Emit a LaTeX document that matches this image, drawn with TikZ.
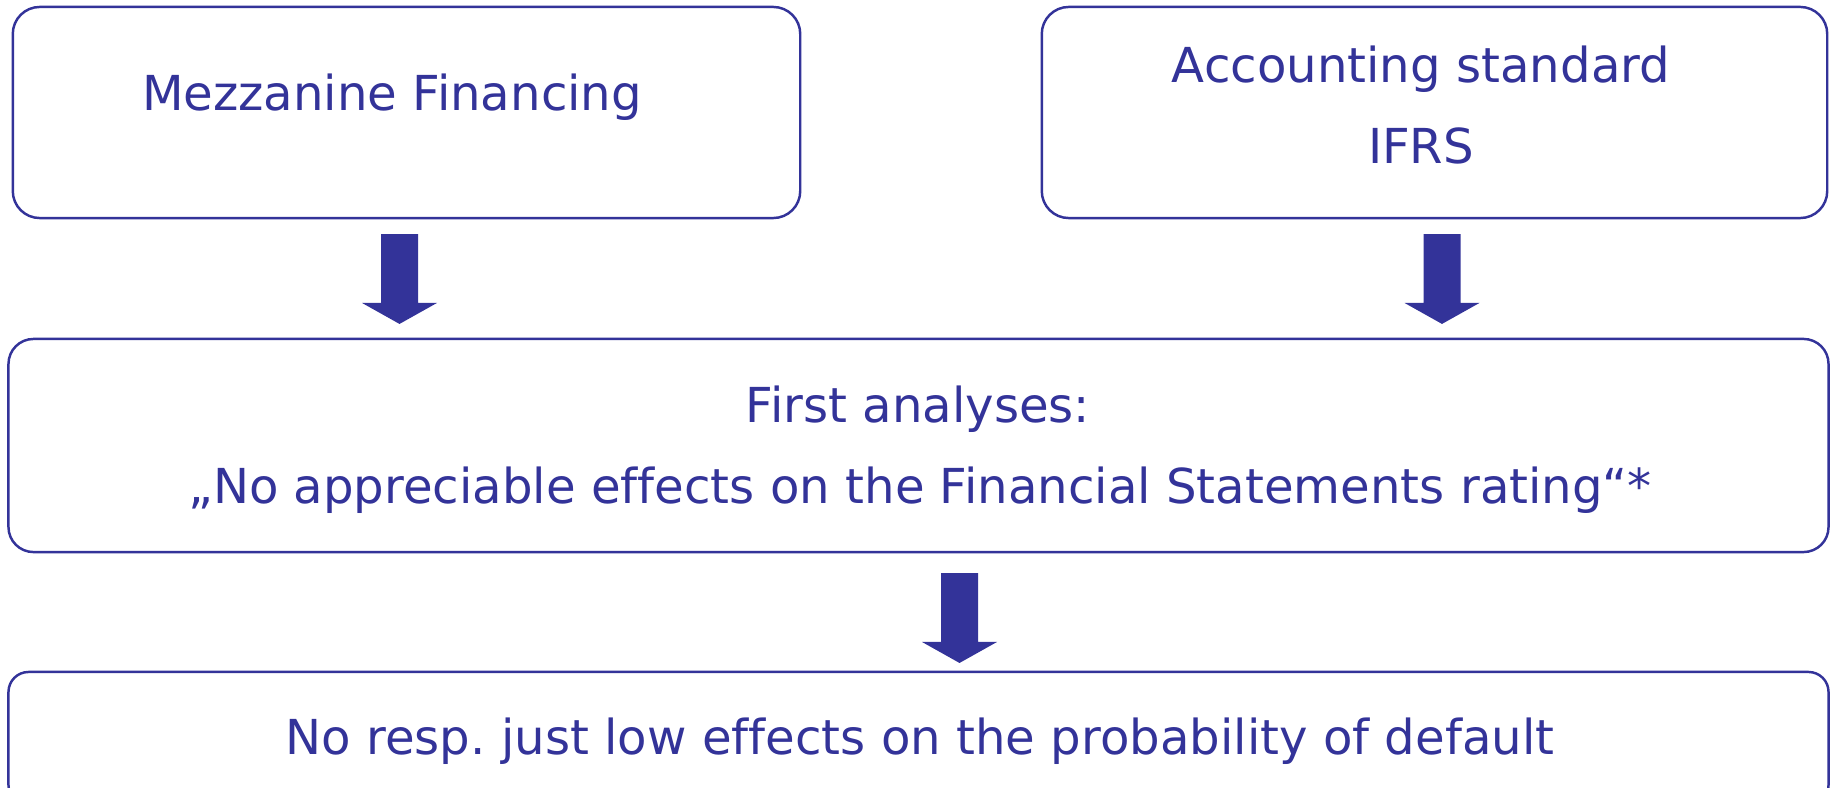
\documentclass[tikz,border=0pt]{standalone}
\usepackage{fontspec}
\setmainfont[Ligatures={NoCommon}]{DejaVu Sans}
\usetikzlibrary{calc}
\definecolor{navy}{HTML}{333399}
\frenchspacing
\tikzset{
  box/.style={draw=navy, line width=0.7pt, inner sep=0pt, outer sep=0pt},
  txt/.style={text=navy, inner sep=0pt, anchor=base, font=\fontsize{13.7}{16}\selectfont},
}
\newcommand\myblockarrow[2]{%
  \fill[navy] ($(#1)+(-18.5,0)$) -- ($(#1)+(18.5,0)$) -- ($(#2)+(18.5,-21)$)
    -- ($(#2)+(37.5,-21)$) -- (#2) -- ($(#2)+(-37.5,-21)$) -- ($(#2)+(-18.5,-21)$) -- cycle;}
\begin{document}
\begin{tikzpicture}[x=0.01cm, y=-0.01cm]
\useasboundingbox (0,0) rectangle (1833,788);
\clip (0,0) rectangle (1833,788);
% boxes
\node[box, rounded corners=0.27cm, minimum width=7.87cm, minimum height=2.11cm] (b1) at (406.5,112.5) {};
\node[box, rounded corners=0.27cm, minimum width=7.85cm, minimum height=2.11cm] (b2) at (1434.5,112.5) {};
\node[box, rounded corners=0.25cm, minimum width=18.19cm, minimum height=2.13cm] (b3) at (918.5,445.5) {};
\node[box, rounded corners=0.20cm, minimum width=18.19cm, minimum height=1.33cm] (b4) at (918.5,738.5) {};
% texts
\node[txt] (t1) at (392,111) {Mezzanine Financing};
\node[txt] (t2a) at (1421,83) {Accounting standard};
\node[txt] (t2b) at (1421,164) {IFRS};
\node[txt] (t3a) at (918,422) {First analyses:};
\node[txt] (t3b) at (920,503) {„No appreciable effects on the Financial Statements rating“*};
\node[txt] (t4) at (920,754) {No resp. just low effects on the probability of default};
% block arrows
\coordinate (a1s) at ($(b1.south)+(-7,16)$);
\coordinate (a1e) at ($(b3.north)+(-519,-15)$);
\coordinate (a2s) at ($(b2.south)+(7.5,16)$);
\coordinate (a2e) at ($(b3.north)+(523.5,-15)$);
\coordinate (a3s) at ($(b3.south)+(41,21)$);
\coordinate (a3e) at ($(b4.north)+(41,-9)$);
\myblockarrow{a1s}{a1e}
\myblockarrow{a2s}{a2e}
\myblockarrow{a3s}{a3e}
\end{tikzpicture}
\end{document}
